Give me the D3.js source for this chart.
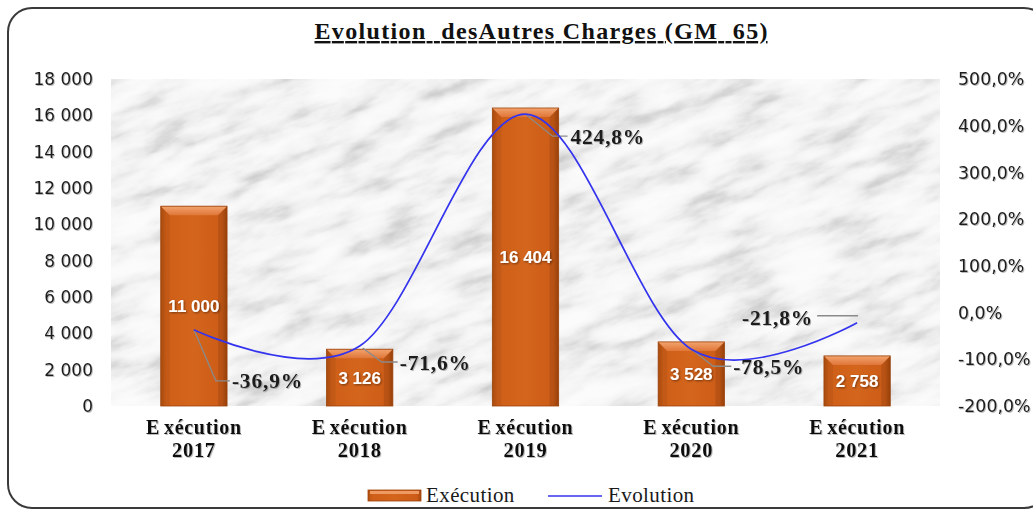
<!DOCTYPE html>
<html><head><meta charset="utf-8">
<script src="https://cdn.jsdelivr.net/npm/d3@7"></script>
<style>body{margin:0;background:#fff;} svg{display:block}</style>
</head><body>
<svg id="chart" width="1033" height="512"></svg>
<script>
// ---- data ----
const categories = ["2017", "2018", "2019", "2020", "2021"];
const categoryPrefix = "Exécution";
const execution = [11000, 3126, 16404, 3528, 2758];
const evolution = [-36.9, -71.6, 424.8, -78.5, -21.8];
const leftTicks = [0, 2000, 4000, 6000, 8000, 10000, 12000, 14000, 16000, 18000];
const rightTicks = [-200, -100, 0, 100, 200, 300, 400, 500];
const seriesNames = ["Exécution", "Evolution"];
const chartTitle = "Evolution  desAutres Charges (GM  65)";

// ---- layout ----
const plot = {l: 111, r: 940, t: 79, b: 406};
const svg = d3.select("#chart");
const defs = svg.append("defs");

const loc = d3.formatLocale({decimal: ",", thousands: " ", grouping: [3], currency: ["", ""], minus: "-"});
const fmtInt = loc.format(",d");
const fmtPct = v => loc.format(".1f")(v) + "%";

const x = d3.scaleBand().domain(categories).range([plot.l, plot.r]).paddingInner(0.6).paddingOuter(0.3);
const yL = d3.scaleLinear().domain([0, 18000]).range([plot.b, plot.t]);
const yR = d3.scaleLinear().domain([-200, 500]).range([plot.b, plot.t]);

// marble filter
const f = defs.append("filter").attr("id", "marble").attr("filterUnits", "userSpaceOnUse")
  .attr("x", -400).attr("y", -400).attr("width", 1800).attr("height", 1400);
f.append("feTurbulence").attr("type", "fractalNoise").attr("baseFrequency", "0.016 0.05")
  .attr("numOctaves", 5).attr("seed", 11).attr("result", "t");
f.append("feColorMatrix").attr("type", "matrix")
  .attr("values", "1 0 0 0 0  1 0 0 0 0  1 0 0 0 0  0 0 0 0 1").attr("result", "g");
const ct = f.append("feComponentTransfer");
["feFuncR", "feFuncG", "feFuncB"].forEach(n => ct.append(n).attr("type", "table")
  .attr("tableValues", "0.98 0.97 0.96 0.94 0.9 0.82 0.7 0.6 0.52"));
ct.append("feFuncA").attr("type", "table").attr("tableValues", "1 1");

defs.append("clipPath").attr("id", "plotclip").append("rect")
  .attr("x", plot.l).attr("y", plot.t).attr("width", plot.r - plot.l).attr("height", plot.b - plot.t);

// bar gradients
const bg = defs.append("linearGradient").attr("id", "barg").attr("x1", 0).attr("x2", 1).attr("y1", 0).attr("y2", 0);
[[0, "#b2500f"], [0.08, "#cf5f18"], [0.5, "#d4651c"], [0.92, "#cc5c17"], [1, "#a9480c"]]
  .forEach(([o, c]) => bg.append("stop").attr("offset", o).attr("stop-color", c));
const tg = defs.append("linearGradient").attr("id", "topg").attr("x1", 0).attr("x2", 0).attr("y1", 0).attr("y2", 1);
[[0, "#f2a46e"], [1, "#e0763a"]].forEach(([o, c]) => tg.append("stop").attr("offset", o).attr("stop-color", c));

const sh = defs.append("filter").attr("id", "tshadow").attr("x", "-20%").attr("y", "-30%").attr("width", "140%").attr("height", "160%");
sh.append("feDropShadow").attr("dx", 1).attr("dy", 1).attr("stdDeviation", 0.8).attr("flood-color", "#000").attr("flood-opacity", 0.45);
const sh2 = defs.append("filter").attr("id", "tshadow2").attr("x", "-20%").attr("y", "-30%").attr("width", "140%").attr("height", "160%");
sh2.append("feDropShadow").attr("dx", 1).attr("dy", 1).attr("stdDeviation", 0.7).attr("flood-color", "#777").attr("flood-opacity", 0.5);

// frame
svg.append("rect").attr("x", 8).attr("y", 8).attr("width", 1040).attr("height", 500)
  .attr("rx", 24).attr("fill", "#fff").attr("stroke", "#3a3a3a").attr("stroke-width", 2);

// title
svg.append("text").attr("x", 541).attr("y", 39).attr("text-anchor", "middle")
  .attr("font-family", "'Liberation Serif', 'Times New Roman', serif").attr("font-weight", "bold")
  .attr("font-size", 24).attr("fill", "#111").style("white-space", "pre")
  .attr("text-decoration", "underline").attr("textLength", 453).attr("lengthAdjust", "spacing")
  .text(chartTitle);

// plot background (marble)
const bgG = svg.append("g").attr("clip-path", "url(#plotclip)");
bgG.append("rect").attr("x", plot.l).attr("y", plot.t).attr("width", plot.r - plot.l).attr("height", plot.b - plot.t).attr("fill", "#dcdcdc");
bgG.append("g").attr("transform", `rotate(-20 ${(plot.l + plot.r) / 2} ${(plot.t + plot.b) / 2})`)
  .append("rect").attr("x", plot.l - 200).attr("y", plot.t - 300).attr("width", plot.r - plot.l + 400).attr("height", plot.b - plot.t + 600)
  .attr("filter", "url(#marble)");

// axes
const axisFont = "'DejaVu Sans', Tahoma, sans-serif";
const gL = svg.append("g").attr("transform", `translate(${plot.l},0)`)
  .call(d3.axisLeft(yL).tickValues(leftTicks).tickFormat(fmtInt).tickSize(0).tickPadding(18));
gL.select(".domain").remove();
gL.selectAll("text").attr("font-family", axisFont).attr("font-size", 17).attr("fill", "#1a1a1a").attr("filter", "url(#tshadow2)");

const gR = svg.append("g").attr("transform", `translate(${plot.r},0)`)
  .call(d3.axisRight(yR).tickValues(rightTicks).tickFormat(fmtPct).tickSize(0).tickPadding(18));
gR.select(".domain").remove();
gR.selectAll("text").attr("font-family", axisFont).attr("font-size", 17.4).attr("fill", "#1a1a1a").attr("filter", "url(#tshadow2)");

// category labels (two lines)
const serif = "'Liberation Serif', 'Times New Roman', serif";
const gX = svg.append("g");
categories.forEach(c => {
  const cx = x(c) + x.bandwidth() / 2;
  const t = gX.append("text").attr("x", cx).attr("y", 434).attr("text-anchor", "middle")
    .attr("font-family", serif).attr("font-weight", "bold").attr("font-size", 20).attr("letter-spacing", 0.7)
    .attr("fill", "#111").attr("filter", "url(#tshadow2)");
  t.append("tspan").text(categoryPrefix.slice(0, 1));
  t.append("tspan").attr("dx", 4).text(categoryPrefix.slice(1));
  gX.append("text").attr("x", cx).attr("y", 457).attr("text-anchor", "middle")
    .attr("font-family", serif).attr("font-weight", "bold").attr("font-size", 20.5).attr("letter-spacing", 0.7)
    .attr("fill", "#111").attr("filter", "url(#tshadow2)").text(c);
});

// bars
const bars = svg.append("g");
categories.forEach((c, i) => {
  const bx = x(c), bw = x.bandwidth(), by = yL(execution[i]), bh = yL(0) - yL(execution[i]);
  const g = bars.append("g");
  g.append("rect").attr("x", bx).attr("y", by).attr("width", bw).attr("height", bh).attr("fill", "url(#barg)");
  const bev = 9;
  g.append("path").attr("d", `M${bx},${by} L${bx + bw},${by} L${bx + bw - bev},${by + bev} L${bx + bev},${by + bev} Z`).attr("fill", "url(#topg)");
  g.append("path").attr("d", `M${bx},${by} L${bx + bev},${by + bev} L${bx + bev},${by + bh} L${bx},${by + bh} Z`).attr("fill", "#000").attr("opacity", 0.06);
  g.append("path").attr("d", `M${bx + bw},${by} L${bx + bw - bev},${by + bev} L${bx + bw - bev},${by + bh} L${bx + bw},${by + bh} Z`).attr("fill", "#000").attr("opacity", 0.1);
  g.append("rect").attr("x", bx).attr("y", by).attr("width", bw).attr("height", bh).attr("fill", "none").attr("stroke", "#9c420c").attr("stroke-width", 0.8);
  g.append("text").attr("x", bx + bw / 2).attr("y", by + bh / 2).attr("dy", "0.36em").attr("text-anchor", "middle")
    .attr("font-family", "'Liberation Sans', Arial, sans-serif").attr("font-weight", "bold").attr("font-size", 17)
    .attr("fill", "#fff").attr("filter", "url(#tshadow)").text(fmtInt(execution[i]));
});

// evolution line
const pts = categories.map((c, i) => [x(c) + x.bandwidth() / 2, yR(evolution[i])]);
// label layout (offsets from each point)
const labelLayout = [
  {dx: 38, dy: 51, anchor: "start", leader: [[0, 0], [22, 51], [36, 51]]},
  {dx: 40, dy: 16, anchor: "start", leader: [[3, 2], [22, 16], [38, 16]]},
  {dx: 45, dy: 22, anchor: "start", leader: [[0, 0], [27, 22], [42, 22]]},
  {dx: 42, dy: 17, anchor: "start", leader: [[0, 0], [22, 17], [40, 17]]},
  {dx: -44, dy: -5, anchor: "end", leader: [[1, -7], [-40, -7]]}
];
const lg = svg.append("g");
pts.forEach((p, i) => {
  const L = labelLayout[i];
  lg.append("path").attr("d", d3.line()(L.leader.map(q => [p[0] + q[0], p[1] + q[1]])))
    .attr("fill", "none").attr("stroke", "#8a8a8a").attr("stroke-width", 1.3);
});
svg.append("path").datum(pts).attr("fill", "none").attr("stroke", "#3434ee").attr("stroke-width", 1.7)
  .attr("d", d3.line().curve(d3.curveCardinal.tension(0)));
pts.forEach((p, i) => {
  const L = labelLayout[i];
  svg.append("text").attr("x", p[0] + L.dx).attr("y", p[1] + L.dy).attr("dy", "0.35em").attr("text-anchor", L.anchor)
    .attr("font-family", serif).attr("font-weight", "bold").attr("font-size", 21.5).attr("letter-spacing", 0.8)
    .attr("fill", "#1a1a1a").attr("filter", "url(#tshadow2)").text(fmtPct(evolution[i]));
});

// legend
const leg = svg.append("g");
leg.append("rect").attr("x", 368).attr("y", 490).attr("width", 53).attr("height", 11).attr("fill", "url(#barg)").attr("stroke", "#9c420c").attr("stroke-width", 0.8);
leg.append("rect").attr("x", 370).attr("y", 491).attr("width", 49).attr("height", 3).attr("fill", "#ee9a62");
leg.append("text").attr("x", 426).attr("y", 502).attr("font-family", serif).attr("font-size", 21).attr("fill", "#1a1a1a")
  .attr("letter-spacing", 0.4).text(seriesNames[0]);
leg.append("line").attr("x1", 548).attr("x2", 602).attr("y1", 496).attr("y2", 496).attr("stroke", "#3434ee").attr("stroke-width", 1.7);
leg.append("text").attr("x", 608).attr("y", 502).attr("font-family", serif).attr("font-size", 21).attr("fill", "#1a1a1a")
  .attr("letter-spacing", 0.4).text(seriesNames[1]);
</script>
</body></html>
